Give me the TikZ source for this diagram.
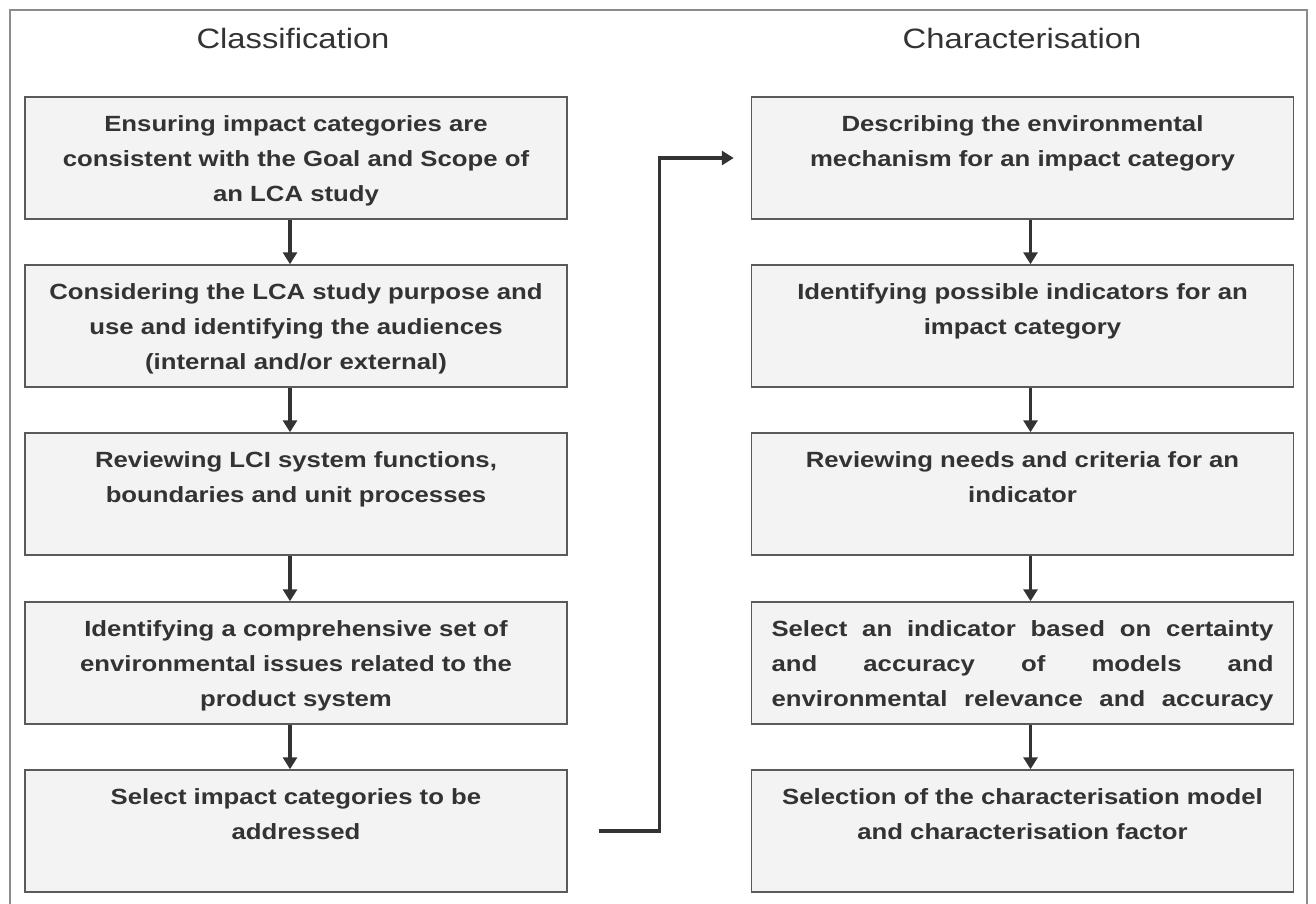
\documentclass[tikz,border=0pt]{standalone}
\usepackage{fontspec}
\setmainfont[FakeStretch=1.17]{Liberation Sans}
\usetikzlibrary{arrows.meta,calc}
\definecolor{inkgray}{HTML}{333333}
\definecolor{boxfill}{HTML}{F3F3F3}
\definecolor{boxline}{HTML}{5A5A5A}
\definecolor{framegray}{HTML}{8C8C8C}
\newcommand{\cellbox}[1]{\parbox[c][122pt][t]{502pt}{\centering\bfseries\fontsize{22}{35}\selectfont\rule{0pt}{34pt}#1}}
\tikzset{
  stage/.style={draw=boxline, fill=boxfill, line width=1.5pt, inner xsep=20pt, inner ysep=0pt, text=inkgray},
  flow/.style={draw=inkgray, line width=3.2pt, -{Triangle[width=14pt,length=12pt]}},
  heading/.style={text=inkgray, font=\fontsize{28}{34}\selectfont, anchor=base},
}

\begin{document}
\begin{tikzpicture}[x=1pt, y=-1pt]
		%%%%% FRAME %%%%%
		\useasboundingbox (0, 0) rectangle (1316, 903);
		\fill[white] (0, 0) rectangle (1316, 903);
		\draw[framegray, line width=1.4pt] (10, 920) -- (10, 10) -- (1307, 10) -- (1307, 920);
		
		\node[heading] (clshead) at (293, 48) {Classification};
		\node[heading] (chrhead) at (1022, 48) {Characterisation};
		
		%%%%% CLASSIFICATION %%%%%
		\node[stage] (cls1) at (296, 158) {\cellbox{Ensuring impact categories are\\ consistent with the Goal and Scope of\\ an LCA study}};
		\node[stage] (cls2) at (296, 326) {\cellbox{Considering the LCA study purpose and\\ use and identifying the audiences\\ (internal and/or external)}};
		\node[stage] (cls3) at (296, 494) {\cellbox{Reviewing LCI system functions,\\ boundaries and unit processes}};
		\node[stage] (cls4) at (296, 663) {\cellbox{Identifying a comprehensive set of\\ environmental issues related to the\\ product system}};
		\node[stage] (cls5) at (296, 831) {\cellbox{Select impact categories to be\\ addressed}};
		
		\draw[flow] ([xshift=-6pt]cls1.south) -- ([xshift=-6pt]cls2.north);
		\draw[flow] ([xshift=-6pt]cls2.south) -- ([xshift=-6pt]cls3.north);
		\draw[flow] ([xshift=-6pt]cls3.south) -- ([xshift=-6pt]cls4.north);
		\draw[flow] ([xshift=-6pt]cls4.south) -- ([xshift=-6pt]cls5.north);
		
		%%%%% CHARACTERISATION %%%%%
		\node[stage] (chr1) at (1022.5, 158) {\cellbox{Describing the environmental\\ mechanism for an impact category}};
		\node[stage] (chr2) at (1022.5, 326) {\cellbox{Identifying possible indicators for an\\ impact category}};
		\node[stage] (chr3) at (1022.5, 494) {\cellbox{Reviewing needs and criteria for an\\ indicator}};
		\node[stage] (chr4) at (1022.5, 663) {\cellbox{\makebox[\linewidth][s]{Select an indicator based on certainty}\\ \makebox[\linewidth][s]{and accuracy of models and}\\ \makebox[\linewidth][s]{environmental relevance and accuracy}}};
		\node[stage] (chr5) at (1022.5, 831) {\cellbox{Selection of the characterisation model\\ and characterisation factor}};
		
		\draw[flow] ([xshift=8pt]chr1.south) -- ([xshift=8pt]chr2.north);
		\draw[flow] ([xshift=8pt]chr2.south) -- ([xshift=8pt]chr3.north);
		\draw[flow] ([xshift=8pt]chr3.south) -- ([xshift=8pt]chr4.north);
		\draw[flow] ([xshift=8pt]chr4.south) -- ([xshift=8pt]chr5.north);
		
		%%%%% LINK %%%%%
		\coordinate (turn) at ($(cls5.east)!0.5!(chr1.west)$);
		\draw[flow] ([xshift=31pt]cls5.east) -| (turn |- chr1.west) -- ([xshift=-17pt]chr1.west);
		%%%%% END %%%%%
	\end{tikzpicture}
\end{document}
